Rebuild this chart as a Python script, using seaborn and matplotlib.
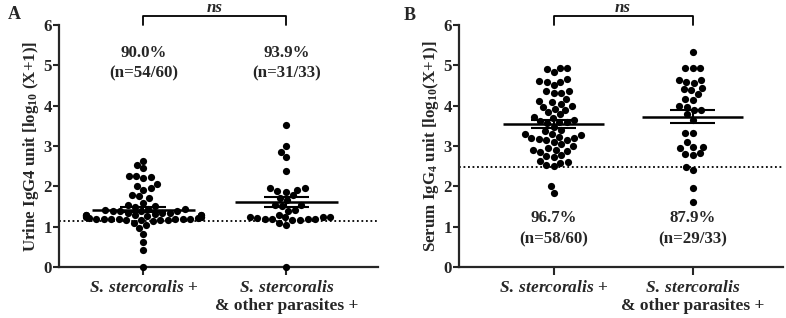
import numpy as np
import pandas as pd
import matplotlib
matplotlib.use("Agg")
import matplotlib.pyplot as plt
import seaborn as sns

# ---------------- data ----------------
groups = ["S. stercoralis +", "S. stercoralis & other parasites +"]

urine_ss = [0.0, 0.42, 0.62, 0.83, 0.98, 1.05, 1.1,
            2.63, 2.53, 2.45, 2.25, 2.25, 2.22, 2.2, 2.05, 2.0,
            1.95, 1.92, 1.78, 1.75, 1.72, 1.6, 1.55, 1.52, 1.5,
            1.45, 1.45, 1.42, 1.4, 1.4, 1.38, 1.38, 1.35, 1.35, 1.33,
            1.32, 1.3, 1.3, 1.3, 1.28, 1.28, 1.27, 1.27, 1.25, 1.25,
            1.25, 1.22, 1.22, 1.2, 1.2, 1.2, 1.18, 1.18, 1.18, 1.18,
            1.17, 1.17, 1.16, 1.16, 1.15]
urine_mix = [0.0, 1.05, 1.1, 3.53, 3.0, 2.85, 2.72, 2.38,
             1.96, 1.95, 1.92, 1.88, 1.85, 1.78, 1.72, 1.65,
             1.55, 1.53, 1.52, 1.42, 1.4, 1.3,
             1.25, 1.25, 1.24, 1.23, 1.22, 1.2, 1.2, 1.18, 1.18, 1.17, 1.16]

serum_ss = [4.93, 4.93, 4.9, 4.82, 4.67, 4.6, 4.58, 4.58, 4.5, 4.36,
            4.35, 4.32, 4.32, 4.17, 4.12, 4.08, 4.04, 4.0, 3.97, 3.92,
            3.9, 3.84, 3.78, 3.72, 3.7, 3.65, 3.62, 3.6, 3.6, 3.58,
            3.48, 3.4, 3.36, 3.3, 3.3, 3.26, 3.23, 3.2, 3.2, 3.18,
            3.15, 3.15, 3.1, 3.04, 3.0, 2.94, 2.9, 2.9, 2.88, 2.86,
            2.77, 2.75, 2.73, 2.63, 2.6, 2.58, 2.52, 2.5, 2.0, 1.83]
serum_mix = [5.33, 4.94, 4.93, 4.94, 4.63, 4.63, 4.58, 4.55,
             4.4, 4.43, 4.38, 4.28, 4.17, 4.15, 3.96, 3.98, 3.9, 3.88,
             3.78, 3.65, 3.33, 3.33, 3.1, 2.98, 2.94, 2.98, 2.78, 2.82, 2.8,
             2.4, 2.47, 1.96, 1.62]

urine_cutoff = 1.13
serum_cutoff = 2.47
urine_labels = ["90.0%\n(n=54/60)", "93.9%\n(n=31/33)"]
serum_labels = ["96.7%\n(n=58/60)", "87.9%\n(n=29/33)"]
yticks = [0, 1, 2, 3, 4, 5, 6]

# ---------------- style ----------------
sns.set_style("ticks")
plt.rcParams["font.family"] = ["Liberation Serif", "DejaVu Serif"]
plt.rcParams["font.weight"] = "bold"
plt.rcParams["mathtext.fontset"] = "custom"
plt.rcParams["mathtext.rm"] = "Liberation Serif:bold"
plt.rcParams["mathtext.bf"] = "Liberation Serif:bold"
plt.rcParams["mathtext.it"] = "Liberation Serif:italic:bold"
plt.rcParams["mathtext.bfit"] = "Liberation Serif:italic:bold"

fig = plt.figure(figsize=(7.86, 3.18), dpi=100)
axA = fig.add_axes([0.075, 0.160, 0.406, 0.762])
axB = fig.add_axes([0.584, 0.160, 0.412, 0.762])

xticklabels = [r"$\mathit{S.\:stercoralis}$ +",
               r"$\mathit{S.\:stercoralis}$" + "\n& other parasites +"]

FS = 12.2


def draw(ax, a, b, cutoff, labels, label_y, ylabel, xlim):
    df = pd.DataFrame({
        "group": [groups[0]] * len(a) + [groups[1]] * len(b),
        "value": list(a) + list(b),
    })
    sns.swarmplot(data=df, x="group", y="value", order=groups, ax=ax,
                  color="black", size=5.2, linewidth=0, zorder=3)
    for c in ax.collections:
        c.set_clip_on(False)
    stats = df.groupby("group")["value"].agg(["mean", "sem"]).reindex(groups)
    for i, g in enumerate(groups):
        m, s = stats.loc[g, "mean"], stats.loc[g, "sem"]
        ax.hlines(m, i - 0.36, i + 0.36, color="black", lw=1.8, zorder=4)
        ax.hlines([m - s, m + s], i - 0.16, i + 0.16, color="black", lw=1.5, zorder=4)
        ax.vlines(i, m - s, m + s, color="black", lw=1.5, zorder=4)
        ax.text(i, label_y, labels[i], ha="center", va="center",
                fontsize=FS, fontweight="bold", linespacing=1.4)
    ax.axhline(cutoff, ls=(0, (1, 1.5)), color="black", lw=1.3, zorder=2)
    ax.set_ylim(0, 6)
    ax.set_xlim(*xlim)
    ax.set_yticks(yticks)
    ax.set_yticklabels([str(t) for t in yticks], fontsize=FS, fontweight="bold")
    ax.set_xticks([0, 1])
    ax.set_xticklabels(xticklabels, fontsize=FS + 0.3, fontweight="bold")
    ax.set_xlabel("")
    ax.set_ylabel(ylabel, fontsize=FS, fontweight="bold", labelpad=2)
    for sp in ["top", "right"]:
        ax.spines[sp].set_visible(False)
    for sp in ["left", "bottom"]:
        ax.spines[sp].set_linewidth(1.6)
    ax.tick_params(axis="y", length=4, width=1.5, pad=1, direction="out")
    ax.tick_params(axis="x", length=6, width=1.5, pad=3, direction="out")
    # significance bracket
    ax.plot([0, 0, 1, 1], [6.0, 6.22, 6.22, 6.0], color="black", lw=1.3,
            clip_on=False)
    ax.text(0.5, 6.42, "ns", ha="center", va="center", fontsize=FS,
            fontstyle="italic", fontweight="bold")


draw(axA, urine_ss, urine_mix, urine_cutoff, urine_labels, 5.05,
     r"Urine IgG4 unit [log$_{\mathbf{10}}$ (X+1)]", (-0.59, 1.64))
draw(axB, serum_ss, serum_mix, serum_cutoff, serum_labels, 0.95,
     r"Serum IgG$_{\mathbf{4}}$ unit [log$_{\mathbf{10}}$(X+1)]", (-0.68, 1.65))

fig.text(0.010, 0.955, "A", fontsize=13, fontweight="bold", va="center")
fig.text(0.513, 0.950, "B", fontsize=13, fontweight="bold", va="center")

fig.savefig("out.png", dpi=100)
